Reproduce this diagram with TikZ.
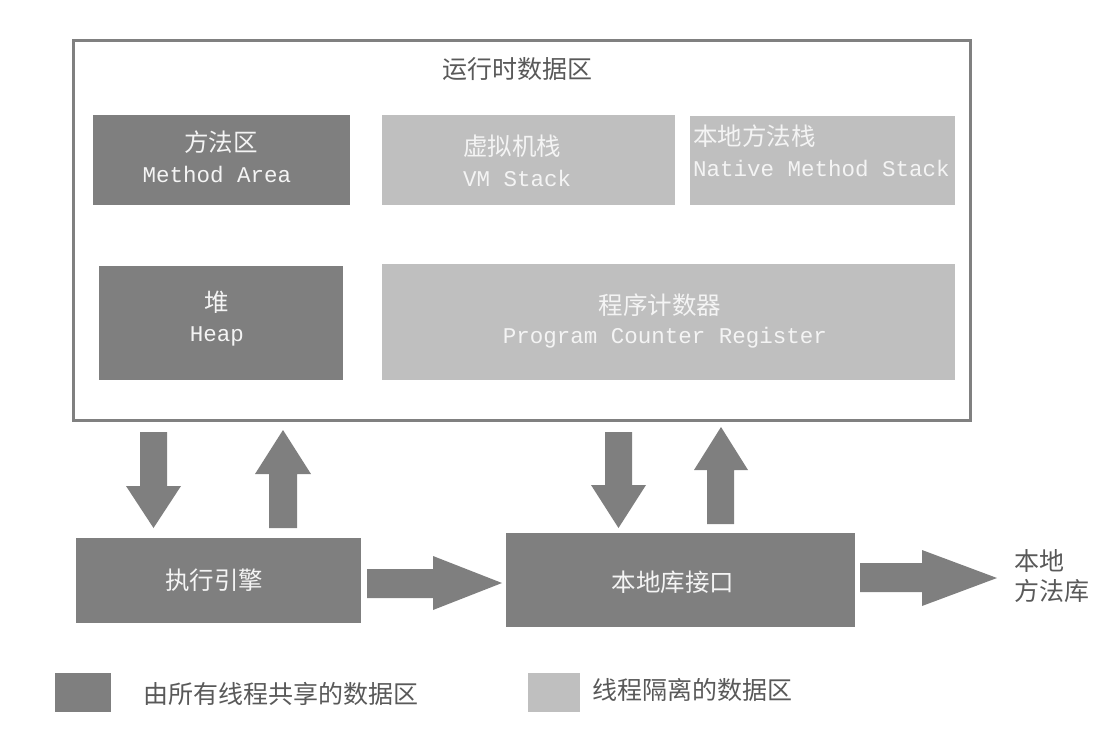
\documentclass[tikz,border=0pt]{standalone}
\usepackage{fontspec}
\newfontfamily\cjk{Noto Sans CJK SC}
\setmonofont{Liberation Mono}
\definecolor{darkbox}{HTML}{7F7F7F}
\definecolor{lightbox}{HTML}{BFBFBF}
\definecolor{frame}{HTML}{808080}
\definecolor{txtgray}{HTML}{595959}
\definecolor{boxtxt}{HTML}{F4F4F4}
\begin{document}
\begin{tikzpicture}[x=1pt,y=-1pt,
  darkrect/.style={fill=darkbox,draw=none},
  lightrect/.style={fill=lightbox,draw=none},
  cjkin/.style={font=\cjk\fontsize{24.5}{27}\selectfont,text=boxtxt,inner sep=0pt},
  latin/.style={font=\ttfamily\fontsize{22.5}{24}\selectfont,text=boxtxt,inner sep=0pt},
  outtxt/.style={font=\cjk\fontsize{25}{28}\selectfont,text=txtgray,inner sep=0pt},
  fatarrow/.style={fill=darkbox,draw=none}]
\useasboundingbox (0,0) rectangle (1096,750);
% outer frame
\draw[frame,line width=3pt,fill=white] (73,40) rectangle (970,420);
\node[outtxt] (title) at (517,69) {运行时数据区};
% Method Area
\fill[darkrect] (93,115) rectangle (350,205);
\node[cjkin] (ma1) at (221,142) {方法区};
\node[latin] (ma2) at (217,174) {Method Area};
% VM Stack
\fill[lightrect] (382,115) rectangle (675,205);
\node[cjkin,anchor=west] (vm1) at (463,146) {虚拟机栈};
\node[latin,anchor=west] (vm2) at (463,178) {VM Stack};
% Native Method Stack
\fill[lightrect] (690,116) rectangle (955,205);
\node[cjkin,anchor=west] (nm1) at (693,136) {本地方法栈};
\node[latin,anchor=west] (nm2) at (693,168) {Native Method Stack};
% Heap
\fill[darkrect] (99,266) rectangle (343,380);
\node[cjkin] (hp1) at (217,302) {堆};
\node[latin] (hp2) at (217,336) {Heap};
% Program Counter Register
\fill[lightrect] (382,264) rectangle (955,380);
\node[cjkin] (pc1) at (660,305) {程序计数器};
\node[latin] (pc2) at (665,338) {Program Counter Register};
% bottom boxes
\node[darkrect,minimum width=285pt,minimum height=85pt,inner sep=0pt] (exec) at (218.5,580.5) {};
\node[cjkin] (execT) at (214,580) {执行引擎};
\node[darkrect,minimum width=349pt,minimum height=94pt,inner sep=0pt] (nif) at (680.5,580) {};
\node[cjkin] (nifT) at (673,582) {本地库接口};
\node[outtxt,align=left,anchor=west] (lib) at (1014,576) {本地\\[2pt]方法库};
% fat arrows
\fill[fatarrow] (140,432) -- (167,432) -- (167,486) -- (181,486) -- (153.5,528) -- (126,486) -- (140,486) -- cycle;
\fill[fatarrow] (269,528) -- (297,528) -- (297,474) -- (311,474) -- (283,430) -- (255,474) -- (269,474) -- cycle;
\fill[fatarrow] (605,432) -- (632,432) -- (632,485) -- (646,485) -- (618.5,528) -- (591,485) -- (605,485) -- cycle;
\fill[fatarrow] (707,524) -- (734,524) -- (734,470) -- (748,470) -- (721,427) -- (694,470) -- (707,470) -- cycle;
\fill[fatarrow] (367,569) -- (433,569) -- (433,556) -- (502,583) -- (433,610) -- (433,598) -- (367,598) -- cycle;
\fill[fatarrow] (860,563) -- (922,563) -- (922,550) -- (997,578) -- (922,606) -- (922,592) -- (860,592) -- cycle;
% legend
\fill[darkrect] (55,673) rectangle (111,712);
\node[outtxt,anchor=west] (leg1) at (143,694) {由所有线程共享的数据区};
\fill[lightrect] (528,673) rectangle (580,712);
\node[outtxt,anchor=west] (leg2) at (592,690) {线程隔离的数据区};
\end{tikzpicture}
\end{document}
